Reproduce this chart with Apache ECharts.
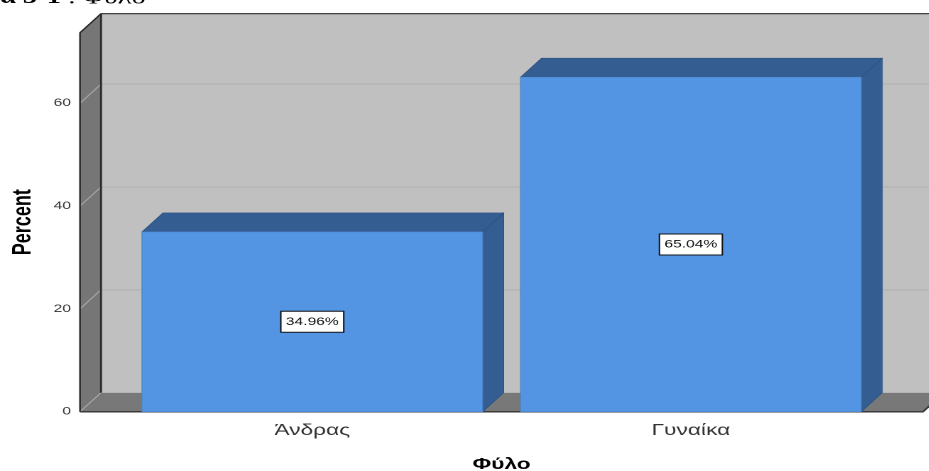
<!DOCTYPE html>
<html><head><meta charset="utf-8">
<script src="https://cdn.jsdelivr.net/npm/echarts@6/dist/echarts.min.js"></script>
<style>
html,body{margin:0;padding:0;background:#fff;overflow:hidden;width:929px;height:471px}
#chart{width:654.2254px;height:471px;transform:scaleX(1.42);transform-origin:0 0}
</style></head><body><div id="chart"></div>
<script>
// ---- data ----
const categories = ['Άνδρας', 'Γυναίκα'];
const percentValues = [34.96, 65.04];
const yTicks = [0, 20, 40, 60];
const yMax = 73.7;
const xTitle = 'Φύλο';
const yTitle = 'Percent';

// ---- layout (the source picture is stretched horizontally) ----
const S = 1.42;
const W = 929 / S;
const X = v => v / S;            // page px -> chart px (horizontal)
const frontLeft = X(80), frontRight = X(923);
const depthX = X(21), depthY = 19;
const gridLeft = X(123), gridRight = W - X(880.5);
const gridTop = 32.7, gridBottom = 471 - 411.7;

function renderFrame(params, api) {
  const yOf = v => api.coord([0, v])[1];
  const y0 = yOf(0), yT = yOf(yMax);
  const L = frontLeft, R = frontRight, dx = depthX, dy = depthY;
  const ch = [];
  ch.push({type: 'rect', shape: {x: L + dx, y: yT - dy, width: R - L, height: y0 - yT}, style: {fill: '#c0c0c0'}});
  ch.push({type: 'polygon', shape: {points: [[L, yT], [L + dx, yT - dy], [L + dx, y0 - dy], [L, y0]]}, style: {fill: '#767676'}});
  ch.push({type: 'polygon', shape: {points: [[L, y0], [L + dx, y0 - dy], [R + dx, y0 - dy], [R, y0]]}, style: {fill: '#787878'}});
  yTicks.forEach(t => {
    const y = yOf(t);
    if (t > 0) ch.push({type: 'line', shape: {x1: L + dx, y1: y - dy, x2: R + dx, y2: y - dy}, style: {stroke: '#b0b0b0', lineWidth: 1}});
    ch.push({type: 'line', shape: {x1: L, y1: y, x2: L + dx, y2: y - dy}, style: {stroke: '#a6a6a6', lineWidth: 1}});
  });
  ch.push({type: 'polyline', shape: {points: [[L, y0], [L, yT], [L + dx, yT - dy], [R + dx + 5, yT - dy]]}, style: {stroke: '#2a2a2a', lineWidth: 1.2, fill: null}});
  ch.push({type: 'line', shape: {x1: L + dx, y1: yT - dy, x2: L + dx, y2: y0 - dy}, style: {stroke: '#2a2a2a', lineWidth: 1.4}});
  ch.push({type: 'polyline', shape: {points: [[L, y0], [R, y0], [R + dx, y0 - dy]]}, style: {stroke: '#3a3a3a', lineWidth: 1.5, fill: null}});
  return {type: 'group', children: ch};
}

function renderBar(params, api) {
  const idx = api.value(0), v = api.value(1);
  const top = api.coord([idx, v]), base = api.coord([idx, 0]);
  const bw = api.size([1, 0])[0] * 0.9;
  const l = top[0] - bw / 2, r = top[0] + bw / 2, t = top[1], b = base[1];
  const dx = depthX, dy = depthY;
  const side = {fill: '#345d91', stroke: '#2c5282', lineWidth: 0.6};
  return {type: 'group', children: [
    {type: 'polygon', shape: {points: [[r, t], [r + dx, t - dy], [r + dx, b - dy], [r, b]]}, style: side},
    {type: 'polygon', shape: {points: [[l, t], [l + dx, t - dy], [r + dx, t - dy], [r, t]]}, style: side},
    {type: 'rect', shape: {x: l, y: t, width: bw, height: b - t}, style: {fill: '#5495e3', stroke: '#4a83cb', lineWidth: 0.6}},
    {type: 'text', x: (l + r) / 2, y: (t + b) / 2, style: {
      text: v.toFixed(2) + '%', align: 'center', verticalAlign: 'middle',
      fill: '#111', fontSize: 11, fontFamily: 'Liberation Sans', lineHeight: 14,
      backgroundColor: '#ffffff', borderColor: '#111', borderWidth: 1, padding: [3, 3, 3, 3]
    }}
  ]};
}

const chart = echarts.init(document.getElementById('chart'), null, {devicePixelRatio: 2});
chart.setOption({
  animation: false,
  backgroundColor: '#ffffff',
  textStyle: {fontFamily: 'Liberation Sans'},
  graphic: [{
    type: 'text', x: 0, y: -2,
    style: {
      text: '{b|α 3-1} : Φύλο', verticalAlign: 'middle', fill: '#000',
      fontSize: 20, fontFamily: 'Liberation Serif',
      rich: {b: {fontWeight: 'bold', fontSize: 20, fontFamily: 'Liberation Serif'}}
    }
  }],
  grid: {left: gridLeft, right: gridRight, top: gridTop, bottom: gridBottom,
         containLabel: false, outerBoundsMode: 'none'},
  xAxis: {
    type: 'category', data: categories,
    axisLine: {show: false}, axisTick: {show: false},
    axisLabel: {fontSize: 16, color: '#333', margin: 11, fontFamily: 'Liberation Sans'},
    name: xTitle, nameLocation: 'middle', nameGap: 45,
    nameTextStyle: {fontSize: 16, fontWeight: 'bold', color: '#000', fontFamily: 'Liberation Sans'}
  },
  yAxis: {
    type: 'value', min: 0, max: yMax, interval: 20,
    axisLine: {show: false}, axisTick: {show: false}, splitLine: {show: false},
    axisLabel: {fontSize: 11, color: '#333', margin: gridLeft - X(71), showMaxLabel: false, padding: [3, 0, 0, 0],
      formatter: v => (yTicks.indexOf(v) >= 0 ? String(v) : '')},
    name: yTitle, nameLocation: 'middle', nameGap: 61,
    nameTextStyle: {fontSize: 18, fontWeight: 'bold', color: '#000', fontFamily: 'Liberation Sans'}
  },
  series: [
    {type: 'custom', name: 'frame', z: 1, silent: true, clip: false,
     data: [[0, 0]], renderItem: renderFrame},
    {type: 'custom', name: 'Percent', z: 2, clip: false,
     data: categories.map((c, i) => [i, percentValues[i]]), renderItem: renderBar}
  ]
});
</script></body></html>
